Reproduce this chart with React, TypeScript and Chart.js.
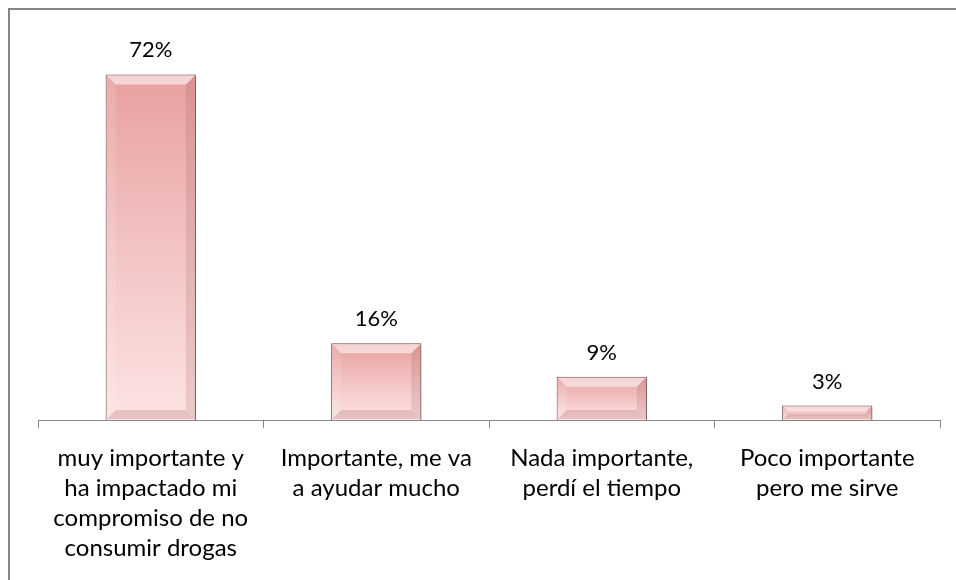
import React, { useEffect, useRef } from "react";
import { Chart, registerables } from "chart.js";

Chart.register(...registerables);

const categories: string[][] = [
  ["muy importante y", "ha impactado mi", "compromiso de no", "consumir drogas"],
  ["Importante, me va", "a ayudar mucho"],
  ["Nada importante,", "perdí el tiempo"],
  ["Poco importante", "pero me sirve"],
];
const values: number[] = [72, 16, 9, 3];
const valueLabels: string[] = ["72%", "16%", "9%", "3%"];

const FONT = "Lato";

const bevelPlugin = {
  id: "bevel",
  beforeDatasetsDraw(chart: any) {
    const ctx = chart.ctx;
    ctx.save();
    ctx.shadowColor = "rgba(0,0,0,0.35)";
    ctx.shadowBlur = 4;
    ctx.shadowOffsetX = 2;
    ctx.shadowOffsetY = 2;
  },
  afterDatasetsDraw(chart: any) {
    const ctx = chart.ctx;
    ctx.restore();
    const meta = chart.getDatasetMeta(0);
    meta.data.forEach((bar: any, i: number) => {
      const left = bar.x - bar.width / 2 + 1;
      const right = bar.x + bar.width / 2 - 1;
      const top = bar.y + 1;
      const bottom = bar.base - 1;
      const h = bottom - top;
      const b = Math.min(9, h / 2.5);
      ctx.save();
      ctx.fillStyle = "rgba(255,255,255,0.55)";
      ctx.beginPath();
      ctx.moveTo(left, top);
      ctx.lineTo(right, top);
      ctx.lineTo(right - b, top + b);
      ctx.lineTo(left + b, top + b);
      ctx.closePath();
      ctx.fill();
      ctx.fillStyle = "rgba(150,80,80,0.22)";
      ctx.beginPath();
      ctx.moveTo(left, bottom);
      ctx.lineTo(right, bottom);
      ctx.lineTo(right - b, bottom - b);
      ctx.lineTo(left + b, bottom - b);
      ctx.closePath();
      ctx.fill();
      ctx.fillStyle = "rgba(255,255,255,0.12)";
      ctx.beginPath();
      ctx.moveTo(left, top);
      ctx.lineTo(left + b, top + b);
      ctx.lineTo(left + b, bottom - b);
      ctx.lineTo(left, bottom);
      ctx.closePath();
      ctx.fill();
      ctx.fillStyle = "rgba(140,70,70,0.15)";
      ctx.beginPath();
      ctx.moveTo(right, top);
      ctx.lineTo(right - b, top + b);
      ctx.lineTo(right - b, bottom - b);
      ctx.lineTo(right, bottom);
      ctx.closePath();
      ctx.fill();
      ctx.restore();

      ctx.save();
      ctx.fillStyle = "#000";
      ctx.font = `22px ${FONT}`;
      ctx.textAlign = "center";
      ctx.textBaseline = "middle";
      ctx.fillText(valueLabels[i], bar.x, bar.y - 24);
      ctx.restore();
    });
  },
};

export default function App() {
  const ref = useRef<HTMLCanvasElement>(null);
  useEffect(() => {
    document.documentElement.style.overflow = "hidden";
    document.body.style.overflow = "hidden";
    if (!ref.current) return;
    const chart = new Chart(ref.current, {
      type: "bar",
      data: {
        labels: categories,
        datasets: [
          {
            data: values,
            backgroundColor: (c: any) => {
              const ch = c.chart;
              if (!ch.chartArea || c.raw === undefined) return "#f0b8b8";
              const ys = ch.scales.y;
              const top = ys.getPixelForValue(c.raw);
              const base = ys.getPixelForValue(0);
              const g = ch.ctx.createLinearGradient(0, top, 0, base);
              g.addColorStop(0, "#e8a0a0");
              g.addColorStop(0.5, "#f3c3c3");
              g.addColorStop(1, "#fde3e3");
              return g;
            },
            borderColor: "#8a4e4e",
            borderWidth: 1,
            categoryPercentage: 1,
            barPercentage: 0.4,
          },
        ],
      },
      plugins: [bevelPlugin],
      options: {
        animation: false,
        responsive: false,
        maintainAspectRatio: false,
        layout: { padding: { left: 28, right: 8, top: 26, bottom: 0 } },
        plugins: { legend: { display: false }, tooltip: { enabled: false } },
        scales: {
          y: { display: false, min: 0, max: 80 },
          x: {
            offset: true,
            grid: {
              display: true,
              offset: true,
              drawOnChartArea: false,
              drawTicks: true,
              tickLength: 8,
              color: "#878787",
            },
            border: { display: true, color: "#878787", width: 1 },
            ticks: {
              color: "#000",
              font: { family: FONT, size: 24, lineHeight: 30 / 24 },
              padding: 15,
              maxRotation: 0,
              autoSkip: false,
            },
            afterFit: (s: any) => {
              s.height = 160;
            },
          },
        },
      },
    });
    return () => chart.destroy();
  }, []);
  return (
    <div
      style={{
        position: "fixed",
        left: 8,
        top: 8,
        width: 948,
        height: 572,
        borderLeft: "2px solid #868686",
        borderTop: "2px solid #868686",
        background: "#fff",
        boxSizing: "border-box",
        overflow: "hidden",
      }}
    >
      <canvas ref={ref} width={938} height={570} style={{ display: "block" }} />
    </div>
  );
}
